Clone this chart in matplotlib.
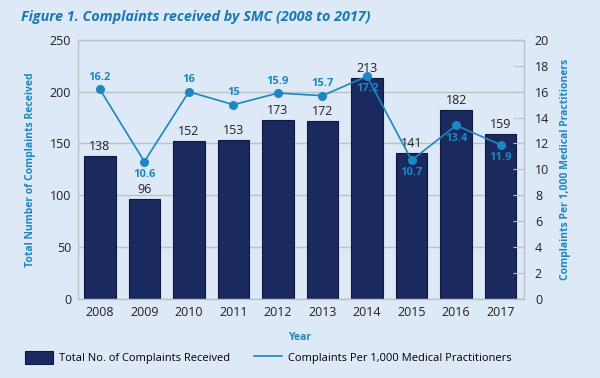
import numpy as np
import matplotlib as mpl
from matplotlib import pyplot as plt
from matplotlib.patches import Patch
from matplotlib.lines import Line2D

# データ
years = ['2008', '2009', '2010', '2011', '2012', '2013', '2014', '2015', '2016', '2017']
complaints = [138, 96, 152, 153, 173, 172, 213, 141, 182, 159]
per_1000 = [16.2, 10.6, 16, 15, 15.9, 15.7, 17.2, 10.7, 13.4, 11.9]
# 折れ線ラベルを上に置くかどうか
label_above = [True, False, True, True, True, True, False, False, False, False]

navy = '#1b2a5e'
blue = '#1c87c0'
grey = '#bcc2c9'

plt.rcParams['font.family'] = ['Open Sans', 'DejaVu Sans']

fig = plt.figure(figsize=(6.0, 3.78), dpi=100)
fig.patch.set_facecolor('#dde9f6')
ax = fig.add_axes([0.13, 0.21, 0.743, 0.684])
ax.set_facecolor('none')

x = np.arange(len(years))
bars = ax.bar(x, complaints, width=0.71, color=navy, edgecolor='#0f1840', linewidth=0.8, zorder=2)
for xi, v in zip(x, complaints):
    ax.text(xi, v + 3, str(v), ha='center', va='bottom', fontsize=9, color='#222222', zorder=5)

ax.set_xlim(-0.49, len(years) - 0.48)
ax.set_ylim(0, 250)
ax.set_yticks(range(0, 251, 50))
ax.set_xticks(x)
ax.set_xticklabels(years)
ax.grid(axis='y', color=grey, linewidth=1.0, zorder=0)
ax.set_axisbelow(True)
for s in ['top', 'left', 'right', 'bottom']:
    ax.spines[s].set_color(grey)
    ax.spines[s].set_linewidth(1.0)
ax.tick_params(axis='both', length=0, labelsize=9, colors='#222222', pad=5)
ax.set_ylabel('Total Number of Complaints Received', color=blue, fontsize=7.5,
              fontweight='bold', labelpad=10)
ax.set_xlabel('Year', color=blue, fontsize=7.5, fontweight='bold', labelpad=10)

ax2 = ax.twinx()
ax2.set_ylim(0, 20)
ax2.set_yticks(range(0, 21, 2))
ax2.tick_params(axis='y', direction='in', length=8, color=grey, labelsize=9,
                labelcolor='#222222', pad=8)
for s in ax2.spines.values():
    s.set_visible(False)
ax2.plot(x, per_1000, color=blue, linewidth=1.2, marker='o', markersize=5.5, zorder=4)
for xi, v, up in zip(x, per_1000, label_above):
    txt = '{:g}'.format(v)
    if up:
        ax2.text(xi, v + 0.5, txt, ha='center', va='bottom', fontsize=8,
                 fontweight='bold', color=blue)
    else:
        ax2.text(xi, v - 0.55, txt, ha='center', va='top', fontsize=8,
                 fontweight='bold', color=blue)
ax2.set_ylabel('Complaints Per 1,000 Medical Practitioners', color=blue, fontsize=7.5,
               fontweight='bold', labelpad=8)

fig.text(0.035, 0.955, 'Figure 1. Complaints received by SMC (2008 to 2017)',
         color='#1a78b4', fontsize=10.4, fontweight='bold', style='italic',
         ha='left', va='center')

handles = [Patch(facecolor=navy, edgecolor='#0f1840', linewidth=0.8),
           Line2D([0], [0], color=blue, linewidth=1.2)]
labels = ['Total No. of Complaints Received', 'Complaints Per 1,000 Medical Practitioners']
fig.legend(handles, labels, loc='center', bbox_to_anchor=(0.4475, 0.053), ncol=2,
           frameon=False, fontsize=8, handlelength=2.5, handleheight=1.35,
           columnspacing=2.2, handletextpad=0.55)

fig.savefig('out.png', dpi=100, facecolor=fig.get_facecolor())
